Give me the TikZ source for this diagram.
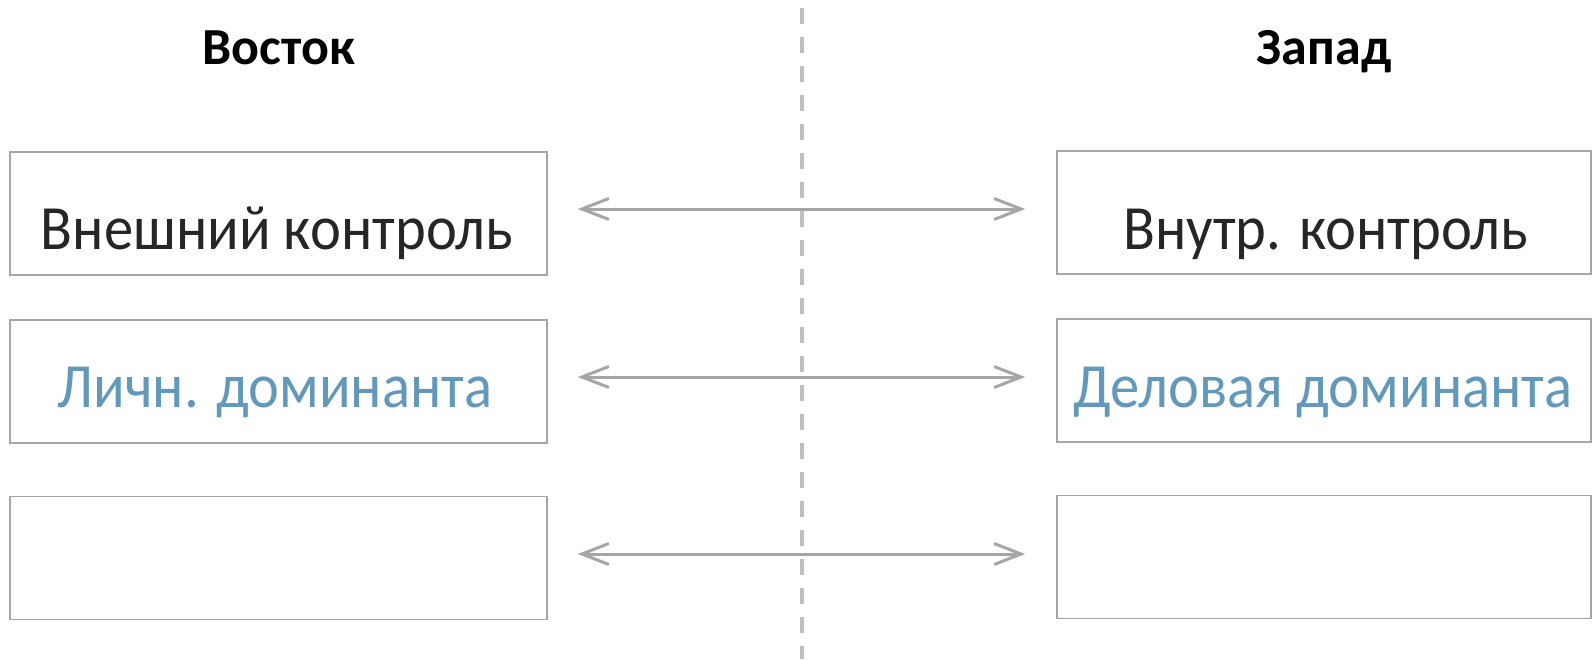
\documentclass[tikz,border=0pt]{standalone}
\usepackage{fontspec}
\setmainfont{Carlito}
\newfontfamily\boxfont{Carlito}[FakeStretch=0.93]
\usetikzlibrary{arrows.meta}
\definecolor{boxgray}{RGB}{166,166,166}
\definecolor{dashgray}{RGB}{191,191,191}
\definecolor{txtdark}{RGB}{38,38,38}
\definecolor{txtblue}{RGB}{98,152,186}
\begin{document}
\begin{tikzpicture}[x=1pt,y=-1pt,
  box/.style={draw=boxgray,line width=1.5pt,minimum width=537pt,minimum height=123pt,inner sep=0pt},
  rbox/.style={box,minimum width=534pt},
  boxtext/.style={anchor=base,inner sep=0pt,font=\boxfont\fontsize{63}{70}\selectfont,text=txtdark},
  bluetext/.style={boxtext,text=txtblue},
  title/.style={anchor=base,inner sep=0pt,font=\fontsize{52}{60}\selectfont\bfseries,text=black},
  arr/.style={draw=boxgray,line width=3pt,{Straight Barb[length=27pt,width=21pt,line width=3pt]}-{Straight Barb[length=27pt,width=21pt,line width=3pt]}},
  divider/.style={draw=dashgray,line width=4pt,dash pattern=on 16pt off 13pt}
]
\useasboundingbox (0,0) rectangle (1593,659);
% divider
\coordinate (dtop) at (802,8);
\coordinate (dbot) at (802,659);
\draw[divider] (dtop) -- (dbot);
% titles
\node[title] (east) at (279,64) {Восток};
\node[title] (west) at (1324,64) {Запад};
% boxes
\node[box] (L1) at (278.5,213.5) {};
\node[box] (L2) at (278.5,381.5) {};
\node[box] (L3) at (278.5,558) {};
\node[rbox] (R1) at (1324,212.5) {};
\node[rbox] (R2) at (1324,380.5) {};
\node[rbox] (R3) at (1324,557) {};
% texts
\node[boxtext] (t1) at (277,249) {Внешний контроль};
\node[boxtext] (t2) at (1326,249) {Внутр. контроль};
\node[bluetext] (t3) at (275,407) {Личн. доминанта};
\node[bluetext] (t4) at (1323,407) {Деловая доминанта};
% arrows
\draw[arr] ([shift={(30pt,4.5pt)}]L1.east) -- ([shift={(-31pt,3.5pt)}]R1.west);
\draw[arr] ([shift={(30pt,4.5pt)}]L2.east) -- ([shift={(-31pt,3.5pt)}]R2.west);
\draw[arr] ([shift={(30pt,4pt)}]L3.east) -- ([shift={(-31pt,3pt)}]R3.west);
\end{tikzpicture}
\end{document}
